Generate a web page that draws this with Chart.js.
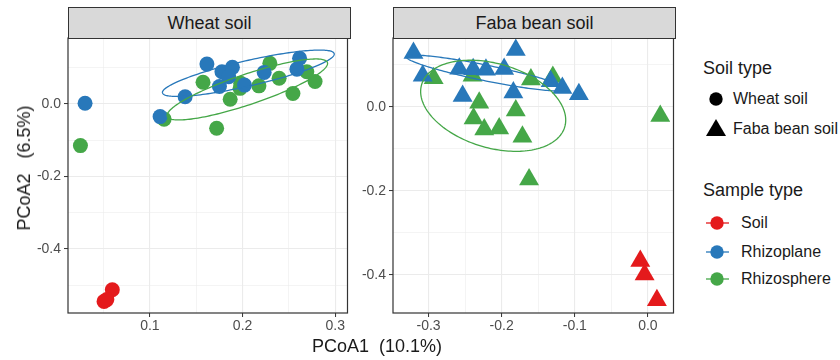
<!DOCTYPE html>
<html>
<head>
<meta charset="utf-8">
<script src="https://cdn.jsdelivr.net/npm/chart.js@4.4.1/dist/chart.umd.min.js"></script>
<style>
  body { margin: 0; background: #fff; }
  #page { position: relative; width: 840px; height: 360px; overflow: hidden; font-family: "Liberation Sans", Arial, sans-serif; color: #1a1a1a; }
  canvas { position: absolute; top: 0; }
  #wheatChart { left: 0; }
  #fabaChart { left: 355px; }
  .strip { position: absolute; top: 7px; height: 32px; box-sizing: border-box; background: #d9d9d9; border: 1px solid #333; text-align: center; font-size: 18px; line-height: 30px; }
  .axis-title { position: absolute; font-size: 18px; white-space: pre; line-height: 20px; }
  .lg-title { position: absolute; left: 703px; font-size: 18px; line-height: 20px; }
  .lg-label { position: absolute; font-size: 16px; line-height: 20px; }
  svg.lg { position: absolute; left: 700px; top: 0; overflow: visible; }
</style>
</head>
<body>
<div id="page">
  <canvas id="wheatChart" width="355" height="360"></canvas>
  <canvas id="fabaChart" width="330" height="360"></canvas>
  <div class="strip" style="left:68px;width:283px">Wheat soil</div>
  <div class="strip" style="left:393px;width:283px">Faba bean soil</div>
  <div class="axis-title" style="left:312px;top:336px">PCoA1  (10.1%)</div>
  <div class="axis-title" style="left:24px;top:168px;transform:translate(-50%,-50%) rotate(-90deg)">PCoA2   (6.5%)</div>
  <div id="legend"></div>
</div>
<script>
// sample types and colours
const sampleTypes = ['Soil', 'Rhizoplane', 'Rhizosphere'];
const sampleColors = ['#E41A1C', '#2878BA', '#45A748'];
const soilTypes = ['Wheat soil', 'Faba bean soil'];

// wheat soil panel (PCoA1, PCoA2)
const wheatSoil = [[0.0594, -0.513], [0.0505, -0.545], [0.0535, -0.540]];
const wheatRhizoplane = [
  [0.030, 0.002], [0.111, -0.035], [0.138, 0.020], [0.1615, 0.110], [0.1777, 0.089], [0.189, 0.101],
  [0.185, 0.075], [0.175, 0.048], [0.202, 0.052], [0.2233, 0.087], [0.2615, 0.126], [0.2586, 0.096]
];
const wheatRhizosphere = [
  [0.025, -0.115], [0.1153, -0.042], [0.172, -0.067], [0.1573, 0.060], [0.1866, 0.013], [0.198, 0.057],
  [0.1973, 0.043], [0.2176, 0.050], [0.2294, 0.112], [0.2394, 0.071], [0.2693, 0.089], [0.2782, 0.062],
  [0.2543, 0.029]
];

// faba bean soil panel
const fabaSoil = [[-0.0104, -0.367], [-0.0045, -0.399], [0.0123, -0.460]];
const fabaRhizoplane = [
  [-0.3206, 0.128], [-0.1807, 0.135], [-0.308, 0.074], [-0.258, 0.0905], [-0.239, 0.089], [-0.2215, 0.088],
  [-0.1966, 0.090], [-0.2534, 0.0255], [-0.184, 0.034], [-0.133, 0.061], [-0.117, 0.0445], [-0.0944, 0.030]
];
const fabaRhizosphere = [
  [-0.293, 0.068], [-0.2398, 0.074], [-0.160, 0.065], [-0.130, 0.071], [-0.2307, 0.0095], [-0.1807, -0.0086],
  [-0.2384, -0.0276], [-0.2238, -0.054], [-0.2034, -0.0514], [-0.1716, -0.0714], [0.0169, -0.022], [-0.1625, -0.173]
];

// confidence ellipses: centre x, centre y, then two conjugate half-axes (data units)
const wheatPlaneEllipse = [0.2062, 0.0847, 0.0927, 0.0530, 0, 0.0359];
const wheatSphereEllipse = [0.2051, 0.0400, 0.0866, 0.0717, 0, 0.0441];
const fabaPlaneEllipse = [-0.2211, 0.0802, 0.1090, -0.0381, 0, 0.0190];
const fabaSphereEllipse = [-0.2116, 0.0024, 0.0992, -0.0340, 0, 0.1029];

// axis ranges, grid lines and labelled ticks
const wheatXRange = [0.0116, 0.3132];
const wheatYRange = [-0.577, 0.182];
const fabaXRange = [-0.3486, 0.035];
const fabaYRange = [-0.4905, 0.1636];
const wheatXGrid = [0.05, 0.1, 0.15, 0.2, 0.25, 0.3];
const wheatXLabels = [0.1, 0.2, 0.3];
const wheatYGrid = [-0.5, -0.4, -0.3, -0.2, -0.1, 0, 0.1];
const fabaXGrid = [-0.3, -0.25, -0.2, -0.15, -0.1, -0.05, 0];
const fabaXLabels = [-0.3, -0.2, -0.1, 0];
const fabaYGrid = [-0.4, -0.3, -0.2, -0.1, 0, 0.1];
const yLabels = [-0.4, -0.2, 0];

const FONT = '"Liberation Sans", Arial, sans-serif';

function inList(list, v) {
  return list.some(m => Math.abs(m - v) < 1e-9);
}

function toPoints(arr) {
  return arr.map(p => ({ x: p[0], y: p[1] }));
}

const ellipsePlugin = {
  id: 'ellipses',
  afterDatasetsDraw(chart, args, opts) {
    const { ctx, chartArea, scales: { x, y } } = chart;
    ctx.save();
    ctx.beginPath();
    ctx.rect(chartArea.left, chartArea.top, chartArea.right - chartArea.left, chartArea.bottom - chartArea.top);
    ctx.clip();
    opts.items.forEach(item => {
      const [cx, cy, ax, ay, bx, by] = item.params;
      const px = x.getPixelForValue(cx), py = y.getPixelForValue(cy);
      const Ax = x.getPixelForValue(cx + ax) - px, Ay = y.getPixelForValue(cy + ay) - py;
      const Bx = x.getPixelForValue(cx + bx) - px, By = y.getPixelForValue(cy + by) - py;
      ctx.beginPath();
      for (let i = 0; i <= 180; i++) {
        const t = i / 180 * Math.PI * 2;
        const ex = px + Ax * Math.cos(t) + Bx * Math.sin(t);
        const ey = py + Ay * Math.cos(t) + By * Math.sin(t);
        if (i === 0) ctx.moveTo(ex, ey); else ctx.lineTo(ex, ey);
      }
      ctx.strokeStyle = item.color;
      ctx.lineWidth = 1.3;
      ctx.stroke();
    });
    ctx.restore();
  }
};

const framePlugin = {
  id: 'frame',
  afterDraw(chart) {
    const { ctx, chartArea } = chart;
    ctx.save();
    ctx.strokeStyle = '#333';
    ctx.lineWidth = 1.2;
    ctx.strokeRect(chartArea.left, chartArea.top, chartArea.right - chartArea.left, chartArea.bottom - chartArea.top);
    ctx.restore();
  }
};

function axis(range, grid, labels, fitSize, isX) {
  return {
    type: 'linear',
    min: range[0],
    max: range[1],
    afterBuildTicks: s => { s.ticks = grid.map(v => ({ value: v })); },
    afterFit: s => { if (isX) s.height = fitSize; else s.width = fitSize; },
    border: { display: false },
    grid: {
      color: '#ebebeb',
      lineWidth: c => inList(labels, c.tick.value) ? 1.1 : 0.55,
      drawTicks: true,
      tickLength: 4,
      tickWidth: 1,
      tickColor: c => inList(labels, c.tick.value) ? '#333' : 'rgba(0,0,0,0)'
    },
    ticks: {
      autoSkip: false,
      maxRotation: 0,
      minRotation: 0,
      padding: isX ? 1 : 3,
      color: '#4d4d4d',
      font: { family: FONT, size: 14 },
      callback: v => inList(labels, v) ? (Math.abs(v) < 1e-9 ? '0.0' : v.toFixed(1)) : ''
    }
  };
}

function makePanel(id, sets, ellipses, xr, yr, xGrid, xLabels, yGrid, yAxisWidth, padRight, shape, radius) {
  const datasets = sets.map(s => ({
    label: s.label,
    data: toPoints(s.data),
    backgroundColor: s.color,
    borderWidth: 0,
    pointStyle: shape,
    pointRadius: radius
  }));
  return new Chart(document.getElementById(id), {
    type: 'scatter',
    data: { datasets },
    options: {
      responsive: false,
      animation: false,
      events: [],
      layout: { padding: { top: 38, right: padRight, left: 0, bottom: 0 } },
      plugins: {
        legend: { display: false },
        tooltip: { enabled: false },
        ellipses: { items: ellipses }
      },
      scales: {
        x: axis(xr, xGrid, xLabels, 47, true),
        y: axis(yr, yGrid, yLabels, yAxisWidth, false)
      }
    },
    plugins: [ellipsePlugin, framePlugin]
  });
}

// first dataset is drawn on top
makePanel('wheatChart', [
  { label: 'Rhizoplane', data: wheatRhizoplane, color: sampleColors[1] },
  { label: 'Rhizosphere', data: wheatRhizosphere, color: sampleColors[2] },
  { label: 'Soil', data: wheatSoil, color: sampleColors[0] }
], [
  { params: wheatPlaneEllipse, color: sampleColors[1] },
  { params: wheatSphereEllipse, color: sampleColors[2] }
], wheatXRange, wheatYRange, wheatXGrid, wheatXLabels, wheatYGrid, 68, 5, 'circle', 7.5);

makePanel('fabaChart', [
  { label: 'Rhizoplane', data: fabaRhizoplane, color: sampleColors[1] },
  { label: 'Rhizosphere', data: fabaRhizosphere, color: sampleColors[2] },
  { label: 'Soil', data: fabaSoil, color: sampleColors[0] }
], [
  { params: fabaPlaneEllipse, color: sampleColors[1] },
  { params: fabaSphereEllipse, color: sampleColors[2] }
], fabaXRange, fabaYRange, fabaXGrid, fabaXLabels, fabaYGrid, 38, 10, 'triangle', 11.5);

// legend
function buildLegend() {
  const lg = document.getElementById('legend');
  let html = '';
  let svg = '<svg class="lg" width="140" height="360" viewBox="700 0 140 360">';
  html += '<div class="lg-title" style="top:58px">Soil type</div>';
  const soilRows = [99, 129];
  soilTypes.forEach((name, i) => {
    html += `<div class="lg-label" style="left:733px;top:${soilRows[i] - 10}px">${name}</div>`;
    if (i === 0) svg += `<circle cx="716" cy="${soilRows[i]}" r="6.7" fill="#000"/>`;
    else svg += `<polygon points="706,${soilRows[i] + 7} 726,${soilRows[i] + 7} 716,${soilRows[i] - 10}" fill="#000"/>`;
  });
  html += '<div class="lg-title" style="top:180px">Sample type</div>';
  const sampleRows = [223, 252, 279];
  sampleTypes.forEach((name, i) => {
    html += `<div class="lg-label" style="left:741px;top:${sampleRows[i] - 10}px">${name}</div>`;
    svg += `<line x1="706" x2="729" y1="${sampleRows[i]}" y2="${sampleRows[i]}" stroke="${sampleColors[i]}" stroke-width="1.3"/>`;
    svg += `<circle cx="717" cy="${sampleRows[i]}" r="6.7" fill="${sampleColors[i]}"/>`;
  });
  svg += '</svg>';
  lg.innerHTML = svg + html;
}
buildLegend();
</script>
</body>
</html>
